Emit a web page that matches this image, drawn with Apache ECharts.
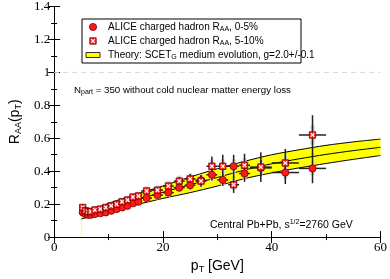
<!DOCTYPE html>
<html><head><meta charset="utf-8">
<script src="https://cdn.jsdelivr.net/npm/echarts@6/dist/echarts.min.js"></script>
<style>html,body{margin:0;padding:0;background:#fff}#c{width:390px;height:279px}</style>
</head><body><div id="c"></div>
<script>
// ---- data ----
const pt      = [5.25,5.75,6.25,6.75,7.5,8.5,9.5,10.5,11.5,12.5,13.5,14.5,15.5,17,19,21,23,25,27,29,31,33,35,38,42.5,47.5];
const ptErr   = [0.25,0.25,0.25,0.25,0.5,0.5,0.5,0.5,0.5,0.5,0.5,0.5,0.5,1,1,1,1,1,1,1,1,1,1,2,2.5,2.5];
const raa0to5 = [0.15,0.14,0.135,0.135,0.14,0.145,0.15,0.16,0.17,0.18,0.19,0.205,0.215,0.237,0.255,0.27,0.30,0.315,0.345,0.378,0.347,0.43,0.386,0.42,0.392,0.417];
const err0to5 = [0.005,0.005,0.005,0.005,0.005,0.005,0.005,0.005,0.006,0.006,0.007,0.008,0.009,0.01,0.012,0.015,0.02,0.025,0.03,0.035,0.035,0.07,0.05,0.05,0.07,0.09];
const raa5to10= [0.18,0.16,0.155,0.155,0.165,0.17,0.18,0.19,0.2,0.215,0.225,0.243,0.25,0.28,0.285,0.31,0.34,0.353,0.34,0.43,0.43,0.318,0.436,0.425,0.45,0.62];
const err5to10= [0.006,0.006,0.006,0.006,0.006,0.006,0.006,0.007,0.008,0.009,0.01,0.011,0.012,0.015,0.018,0.02,0.025,0.03,0.035,0.06,0.07,0.05,0.07,0.09,0.085,0.12];
const bandPt    = [5,7.5,10,15,20,25,30,35,40,45,50,55,60];
const bandUpper = [0.15,0.175,0.205,0.26,0.31,0.365,0.415,0.46,0.5,0.53,0.557,0.578,0.595];
const bandLower = [0.11,0.13,0.15,0.195,0.235,0.27,0.31,0.355,0.39,0.42,0.447,0.472,0.495];
const bandMid   = [0.13,0.152,0.177,0.227,0.272,0.318,0.362,0.407,0.445,0.475,0.502,0.525,0.545];
const xTicks = [0,20,40,60];
const yTicks = [0,0.2,0.4,0.6,0.8,1,1.2,1.4];

const sans = 'Liberation Sans, Arial, sans-serif';
const serif = 'Liberation Serif, Times New Roman, serif';

function pts(r, e){ return pt.map((p,i)=>[p, r[i], ptErr[i], e[i], r[i]*0.1]); }

function sysRender(params, api){
  const x=api.value(0), y=api.value(1), s=api.value(4);
  const a=api.coord([x,y+s]), b=api.coord([x,y-s]);
  return {type:'rect', shape:{x:a[0]-2, y:a[1], width:4, height:b[1]-a[1]}, style:{fill:'#d6d6d6'}};
}
function errRender(params, api){
  const x=api.value(0), y=api.value(1), ex=api.value(2), ey=api.value(3);
  const p0=api.coord([x-ex,y]), p1=api.coord([x+ex,y]);
  const q0=api.coord([x,y-ey]), q1=api.coord([x,y+ey]);
  const st={stroke:'#222', lineWidth:1.5};
  return {type:'group', children:[
    {type:'line', shape:{x1:p0[0],y1:p0[1],x2:p1[0],y2:p1[1]}, style:st},
    {type:'line', shape:{x1:q0[0],y1:q0[1],x2:q1[0],y2:q1[1]}, style:st}
  ]};
}
function circleShape(cx, cy){
  return {type:'circle', shape:{cx:cx, cy:cy, r:3.6}, style:{fill:'#ff1a1a', stroke:'#7a0000', lineWidth:0.8}};
}
function squareShapes(cx, cy){
  const h=3.2;
  return [
    {type:'rect', shape:{x:cx-h, y:cy-h, width:2*h, height:2*h}, style:{fill:'#ff2020', stroke:'#7a0000', lineWidth:0.8}},
    {type:'line', shape:{x1:cx-1.8,y1:cy-1.8,x2:cx+1.8,y2:cy+1.8}, style:{stroke:'#fff', lineWidth:1.2}},
    {type:'line', shape:{x1:cx-1.8,y1:cy+1.8,x2:cx+1.8,y2:cy-1.8}, style:{stroke:'#fff', lineWidth:1.2}}
  ];
}
function circleRender(params, api){
  const c=api.coord([api.value(0), api.value(1)]);
  return circleShape(c[0], c[1]);
}
function squareRender(params, api){
  const c=api.coord([api.value(0), api.value(1)]);
  return {type:'group', children:squareShapes(c[0], c[1])};
}
function bandRender(params, api){
  if (params.dataIndex !== 0) return null;
  const poly=[];
  for (let i=0;i<bandPt.length;i++) poly.push(api.coord([bandPt[i], bandUpper[i]]));
  for (let i=bandPt.length-1;i>=0;i--) poly.push(api.coord([bandPt[i], bandLower[i]]));
  const b0=api.coord([bandPt[0], bandLower[0]]), b1=api.coord([bandPt[0], 0]);
  return {type:'group', children:[
    {type:'polygon', shape:{points:poly}, style:{fill:'#ffff00'}},
    {type:'line', shape:{x1:b0[0],y1:b0[1],x2:b1[0],y2:b1[1]}, style:{stroke:'#ffff66', lineWidth:1}}
  ]};
}
function lineSeries(vals){
  return {type:'line', data:bandPt.map((p,i)=>[p, vals[i]]), smooth:0.3, symbol:'none', lineStyle:{color:'#000', width:1}, z:3, silent:true};
}

const tickCommon = {show:true, inside:true, length:6, lineStyle:{color:'#000'}};
const minorCommon = {show:true, splitNumber:2, length:3, lineStyle:{color:'#000'}};
const subRich = {a:{fontFamily:sans, fontSize:10, fill:'#000', lineHeight:12}, s:{fontFamily:sans, fontSize:7, fill:'#000', verticalAlign:'bottom', lineHeight:8}};

const legendSquare = squareShapes(93, 41).map(s=>Object.assign(s, {z:11}));

const option = {
  animation:false,
  grid:{left:40, right:8, top:4.5, bottom:33},
  xAxis:[
    {type:'value', min:0, max:60, interval:20, position:'bottom',
     axisLine:{show:true, lineStyle:{color:'#000', width:1}}, axisTick:tickCommon, minorTick:minorCommon,
     splitLine:{show:false},
     axisLabel:{fontFamily:serif, fontSize:13, color:'#000', margin:4, formatter:v=>xTicks.includes(v)?String(v):''},
     name:'{p|p}{s|T}{p| [GeV]}', nameLocation:'middle', nameGap:19,
     nameTextStyle:{rich:{p:{fontFamily:sans, fontSize:14, color:'#000', lineHeight:16}, s:{fontFamily:sans, fontSize:9, color:'#000', verticalAlign:'bottom', lineHeight:10}}}},
    {type:'value', min:0, max:60, interval:20, position:'top',
     axisLine:{show:true, lineStyle:{color:'#000'}}, axisTick:tickCommon, minorTick:minorCommon,
     splitLine:{show:false}, axisLabel:{show:false}}
  ],
  yAxis:[
    {type:'value', min:0, max:1.4, interval:0.2, position:'left',
     axisLine:{show:true, lineStyle:{color:'#000'}}, axisTick:tickCommon, minorTick:minorCommon,
     splitLine:{show:false},
     axisLabel:{fontFamily:serif, fontSize:13, color:'#000', margin:4, formatter:v=>{const t=yTicks.find(k=>Math.abs(k-v)<1e-9); return t===undefined?'':String(+t.toFixed(1));}},
     name:'{p|R}{s|AA}{p|(p}{s|T}{p|)}', nameLocation:'middle', nameGap:27, nameRotate:90,
     nameTextStyle:{rich:{p:{fontFamily:sans, fontSize:14, color:'#000', lineHeight:16}, s:{fontFamily:sans, fontSize:9, color:'#000', verticalAlign:'bottom', lineHeight:10}}}},
    {type:'value', min:0, max:1.4, interval:0.2, position:'right',
     axisLine:{show:true, lineStyle:{color:'#000'}}, axisTick:tickCommon, minorTick:minorCommon,
     splitLine:{show:false}, axisLabel:{show:false}}
  ],
  series:[
    {type:'line', data:[[0,1],[60,1]], symbol:'none', lineStyle:{color:'#d4d4d4', type:[5,4], width:1}, z:1, silent:true},
    {type:'custom', renderItem:bandRender, data:bandPt.map((p,i)=>[p,bandLower[i],bandUpper[i]]), z:2, silent:true},
    lineSeries(bandUpper), lineSeries(bandMid), lineSeries(bandLower),
    {type:'custom', renderItem:sysRender, data:pts(raa0to5, err0to5), z:4, silent:true},
    {type:'custom', renderItem:sysRender, data:pts(raa5to10, err5to10), z:4, silent:true},
    {type:'custom', renderItem:errRender, data:pts(raa0to5, err0to5), z:5, silent:true},
    {type:'custom', renderItem:errRender, data:pts(raa5to10, err5to10), z:5, silent:true},
    {type:'custom', renderItem:circleRender, data:pts(raa0to5, err0to5), z:6, silent:true},
    {type:'custom', renderItem:squareRender, data:pts(raa5to10, err5to10), z:7, silent:true}
  ],
  graphic:[
    {type:'rect', shape:{x:82, y:19, width:219, height:44}, style:{fill:'#fff', stroke:'#000', lineWidth:1}, z:10},
    Object.assign(circleShape(93, 27), {z:11}),
    ...legendSquare,
    {type:'rect', shape:{x:86, y:52.5, width:14, height:5}, style:{fill:'#ffff00', stroke:'#000', lineWidth:0.8}, z:11},
    {type:'text', x:108, y:27, z:11, style:{text:'{a|ALICE charged hadron R}{s|AA}{a|, 0-5%}', verticalAlign:'middle', rich:subRich}},
    {type:'text', x:108, y:41, z:11, style:{text:'{a|ALICE charged hadron R}{s|AA}{a|, 5-10%}', verticalAlign:'middle', rich:subRich}},
    {type:'text', x:108, y:55, z:11, style:{text:'{a|Theory: SCET}{s|G}{a| medium evolution, g=2.0+/-0.1}', verticalAlign:'middle', rich:subRich}},
    {type:'text', x:74, y:90, z:11, style:{text:'{a|N}{s|part}{a| = 350 without cold nuclear matter energy loss}', verticalAlign:'middle', rich:{a:{fontFamily:sans, fontSize:9.7, fill:'#000', lineHeight:12}, s:subRich.s}}},
    {type:'text', x:210, y:225, z:11, style:{text:'{a|Central Pb+Pb, s}{u|1/2}{a|=2760 GeV}', verticalAlign:'middle', rich:{a:{fontFamily:sans, fontSize:10.5, fill:'#000', lineHeight:12}, u:{fontFamily:sans, fontSize:7, fill:'#000', verticalAlign:'top', lineHeight:8}}}}
  ]
};
const chart = echarts.init(document.getElementById('c'));
chart.setOption(option);
</script>
</body></html>
